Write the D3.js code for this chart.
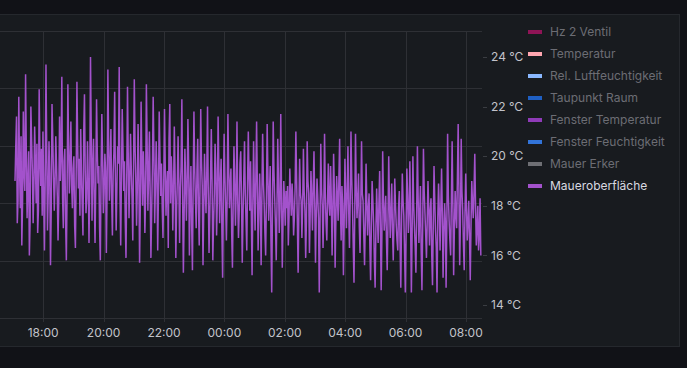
<!DOCTYPE html>
<html>
<head>
<meta charset="utf-8">
<script src="https://cdn.jsdelivr.net/npm/d3@7/dist/d3.min.js"></script>
<style>
html,body{margin:0;padding:0;background:#111217;overflow:hidden;}
svg{display:block;font-family:Inter,"Noto Sans",sans-serif;}
</style>
</head>
<body>
<svg id="chart" width="687" height="368"></svg>
<script>
// ---- data ----
const seriesNames = ["Hz 2 Ventil","Temperatur","Rel. Luftfeuchtigkeit","Taupunkt Raum","Fenster Temperatur","Fenster Feuchtigkeit","Mauer Erker","Maueroberfläche"];
const seriesColors = ["#8f1456","#ffa6b0","#8ab8ff","#1f60c4","#8f3bb8","#3274d9","#6e6f74","#a352cc"];
const seriesVisible = [false,false,false,false,false,false,false,true];

const startTime = new Date(2023, 0, 10, 17, 4);
const stepSeconds = 90;
const maueroberflaeche = [
19.0,20.4,21.6,17.3,18.2,22.4,19.5,17.9,20.8,16.4,
18.1,21.8,19.3,18.6,23.3,20.1,17.5,18.9,20.2,16.0,
17.4,22.0,20.6,19.4,17.3,18.8,21.2,19.7,18.1,20.5,
16.9,17.8,22.7,19.9,18.8,20.3,17.6,21.0,18.4,16.2,
19.1,23.7,20.2,17.0,18.5,20.6,19.3,15.6,17.9,22.1,
20.7,19.2,17.8,18.9,20.8,19.6,18.4,16.6,18.2,21.6,
19.0,20.1,23.2,18.3,17.1,19.8,20.3,17.4,15.8,18.6,
22.9,20.4,18.5,19.7,21.4,18.8,17.9,19.5,20.0,17.2,
16.3,19.2,23.0,20.5,18.7,19.9,17.6,21.1,19.3,18.0,
16.8,20.9,22.5,19.4,17.7,18.3,20.6,19.1,16.5,18.9,
24.0,20.8,17.4,19.6,20.7,18.2,16.5,19.0,22.3,20.1,
18.9,19.6,17.1,15.8,19.3,21.7,19.9,17.7,18.6,20.1,
19.4,16.1,18.7,23.5,20.6,18.2,19.5,21.1,18.3,16.8,
19.3,20.2,22.6,19.0,17.0,18.8,20.4,19.7,23.6,18.5,
16.4,19.2,21.9,20.3,18.6,19.8,17.4,15.9,19.1,22.8,
20.0,17.5,18.9,20.9,19.5,18.3,16.6,19.6,23.1,20.4,
19.1,17.2,18.7,21.3,19.4,15.7,18.1,22.2,19.8,18.0,
20.2,19.0,16.9,18.4,22.9,20.5,17.8,19.3,21.0,18.6,
15.9,17.7,19.5,22.4,20.1,17.3,18.8,20.6,19.2,16.2,
18.5,21.8,20.0,18.4,19.7,17.9,16.7,18.9,21.9,19.6,
17.6,18.8,19.4,16.3,20.7,22.1,
18.1,20.0,19.0,17.0,18.6,21.2,19.3,15.9,17.8,19.0,
20.8,18.9,16.5,18.7,19.6,22.3,18.4,15.3,17.5,20.3,
19.1,17.4,18.8,21.5,19.7,16.0,18.3,19.6,17.2,15.4,
18.9,21.8,19.5,18.2,17.1,19.4,20.7,18.0,16.4,18.6,
21.9,19.8,18.8,15.6,17.9,20.1,18.7,17.7,19.3,22.0,
18.5,16.1,17.6,19.2,21.1,19.0,15.8,17.3,18.5,20.5,
19.4,16.8,18.2,21.6,19.6,17.3,18.9,19.9,17.0,15.1,
18.4,20.9,19.2,18.0,16.6,18.3,21.7,19.5,17.9,18.8,
19.5,16.9,15.5,18.1,20.4,19.0,17.2,18.6,21.4,18.2,
16.7,17.8,19.7,20.2,18.3,15.7,17.6,19.1,20.6,18.5,
17.4,16.2,18.9,21.0,19.2,17.8,
19.8,17.6,15.2,18.0,20.6,18.6,17.0,19.1,21.4,18.8,
16.2,17.7,19.3,18.1,15.6,18.4,20.9,19.0,18.1,16.9,
16.0,18.3,21.3,19.2,17.4,18.5,19.6,16.7,14.5,17.8,
21.4,19.4,18.3,17.2,15.8,18.0,20.7,18.9,16.9,17.9,
21.7,18.6,15.5,17.3,19.0,18.2,17.2,18.6,17.9,18.8,
16.4,17.6,19.5,18.4,17.6,18.9,18.2,16.8,17.5,18.7,
21.0,19.1,17.3,15.3,17.8,19.9,18.5,18.2,16.7,18.0,
20.3,18.6,17.8,15.9,17.4,20.6,19.0,18.5,16.1,17.7,
19.4,18.3,17.0,18.8,20.2,18.1,15.7,17.6,19.1,18.4,
17.5,14.5,17.2,20.5,18.7,18.0,16.3,17.9,20.9,18.5,
17.3,16.6,18.2,19.7,18.1,17.6,
19.6,18.2,16.0,17.7,20.1,18.6,15.5,17.4,19.2,18.3,
17.4,19.1,20.7,17.9,16.6,18.8,18.0,15.2,17.3,19.9,
18.4,17.1,18.6,20.4,17.8,16.3,18.2,21.0,19.1,18.0,
16.4,14.9,17.6,20.9,18.7,17.5,18.3,19.3,17.2,16.1,
18.0,20.6,18.5,18.2,16.8,15.6,17.4,19.7,18.1,16.8,
17.9,18.5,16.4,15.0,17.1,19.0,18.2,17.3,15.8,14.7,
17.0,18.7,17.6,16.5,18.1,19.4,17.2,14.6,16.9,20.2,
18.3,17.0,17.7,18.4,16.6,15.4,17.3,20.0,18.1,16.7,
17.8,18.9,17.0,15.8,17.5,19.1,18.0,17.2,16.6,16.2,
17.9,18.6,16.5,14.7,17.4,19.3,18.2,17.6,16.1,14.5,
17.0,19.5,18.4,16.9,17.8,19.8,
17.3,14.5,16.8,20.0,18.1,17.2,16.4,15.3,17.7,20.4,
18.3,16.5,17.6,18.8,16.2,14.6,17.1,20.3,18.6,17.7,
16.8,15.9,17.4,19.0,17.9,16.4,17.8,18.3,16.0,14.8,
17.2,19.6,18.2,17.0,16.3,14.5,17.5,18.9,17.8,16.2,
17.9,19.5,17.7,15.1,16.9,18.1,17.4,14.7,17.3,20.9,
18.4,17.4,16.6,16.0,18.2,20.6,18.0,15.2,17.1,18.6,
17.6,17.1,19.2,21.3,18.5,15.6,17.4,20.7,18.6,17.8,
16.4,15.4,17.7,19.3,17.9,16.6,17.3,18.2,16.7,15.0,
17.2,19.0,18.1,17.5,18.6,20.1,18.0,16.4,17.1,18.0,
16.2,16.8,18.3,16.0
];
const tempTicks = [14,16,18,20,22,24];
const gridTicks = [0,20,40,60,80,100];

// ---- layout ----
const svg = d3.select("#chart");
const plot = {left:0, right:482, top:31, bottom:318};

// panel
svg.append("rect").attr("x",-10).attr("y",14.5).attr("width",689.5).attr("height",332)
  .attr("fill","#181b1f").attr("stroke","#25282d").attr("stroke-width",1);

const x = d3.scaleTime()
  .domain([new Date(2023,0,10,16,34,10), new Date(2023,0,11,8,31,50)])
  .range([plot.left, plot.right]);
const y = d3.scaleLinear().domain([13.476, 25.048]).range([plot.bottom, plot.top]);
const yGrid = d3.scaleLinear().domain([0,100]).range([plot.bottom, plot.top]);

const grid = svg.append("g").attr("stroke","#2e3035").attr("stroke-width",1);
gridTicks.forEach(t=>{
  const yy = Math.round(yGrid(t))+0.5;
  grid.append("line").attr("x1",plot.left).attr("x2",plot.right).attr("y1",yy).attr("y2",yy);
});
const xTicks = x.ticks(d3.timeHour.every(2));
xTicks.forEach(t=>{
  const xx = Math.round(x(t))+0.5;
  grid.append("line").attr("x1",xx).attr("x2",xx).attr("y1",plot.top).attr("y2",plot.bottom+4);
});

// x labels
svg.append("g").selectAll("text").data(xTicks).join("text")
  .attr("x",d=>x(d)).attr("y",337).attr("text-anchor","middle")
  .attr("font-size",12).attr("fill","#c2c3ca")
  .text(d=>d3.timeFormat("%H:%M")(d));

// y axis right
const yax = svg.append("g");
tempTicks.forEach(t=>{
  const yy = Math.round(y(t))+0.5;
  yax.append("line").attr("x1",483).attr("x2",487).attr("y1",yy).attr("y2",yy).attr("stroke","#3a3d42");
  yax.append("text").attr("x",491).attr("y",y(t)+4.3).attr("font-size",12).attr("fill","#c2c3ca").text(t+" °C");
});

// line
const data = maueroberflaeche.map((v,i)=>({t:new Date(startTime.getTime()+i*stepSeconds*1000), v}));
svg.append("path").datum(data)
  .attr("fill","none").attr("stroke",seriesColors[7]).attr("stroke-width",1.5)
  .attr("stroke-linejoin","miter").attr("stroke-miterlimit",2)
  .attr("d", d3.line().x(d=>x(d.t)).y(d=>y(d.v)));

// legend
const lg = svg.append("g");
seriesNames.forEach((n,i)=>{
  const yy = 32 + i*22;
  lg.append("rect").attr("x",528).attr("y",yy-2).attr("width",14).attr("height",4).attr("fill",seriesColors[i]);
  lg.append("text").attr("x",550).attr("y",yy+4.3).attr("font-size",12)
    .attr("fill", seriesVisible[i] ? "#d8d9e0" : "#6c6d74").text(n);
});
</script>
</body>
</html>
